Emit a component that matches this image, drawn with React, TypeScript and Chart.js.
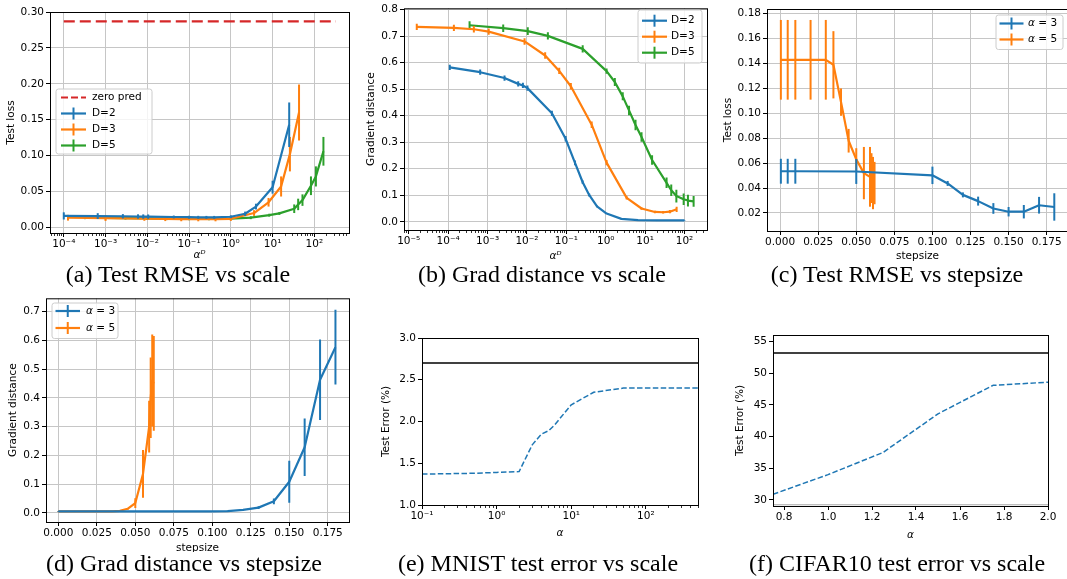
import React, { useEffect, useRef } from "react";
import { Chart, registerables } from "chart.js";
Chart.register(...registerables);

const BLUE = "#1f77b4";
const ORANGE = "#ff7f0e";
const GREEN = "#2ca02c";
const RED = "#d62728";
const SANS = "'DejaVu Sans', sans-serif";
const FS = 10.5;

// ---------- (a) Test RMSE vs scale ----------
const aXTicks = [1e-4, 1e-3, 1e-2, 1e-1, 1, 10, 100];
const aXTickLabels = ["10⁻⁴", "10⁻³", "10⁻²", "10⁻¹", "10⁰", "10¹", "10²"];
const aYTicks = [0, 0.05, 0.1, 0.15, 0.2, 0.25, 0.3];
const aYTickLabels = ["0.00", "0.05", "0.10", "0.15", "0.20", "0.25", "0.30"];
const aZeroX = [1e-4, 330];
const aZeroY = [0.287, 0.287];
const aD2X = [1e-4, 6.5e-4, 2.6e-3, 6e-3, 8e-3, 1.05e-2, 4.3e-2, 0.1, 0.166, 0.26, 0.4, 1.0, 2.2, 4.0, 10, 25];
const aD2Y = [0.016, 0.0158, 0.0155, 0.0152, 0.0151, 0.015, 0.0145, 0.0142, 0.0141, 0.014, 0.014, 0.0148, 0.019, 0.029, 0.056, 0.143];
const aD2E = [0.005, 0.004, 0.003, 0.003, 0.003, 0.003, 0.002, 0.002, 0.002, 0.002, 0.002, 0.002, 0.003, 0.004, 0.009, 0.031];
const aD3X = [1.26e-4, 1e-3, 8.5e-3, 2.7e-2, 6.5e-2, 0.166, 0.43, 1.0, 3.6, 8, 16, 26, 43];
const aD3Y = [0.0135, 0.013, 0.0122, 0.0118, 0.0116, 0.0115, 0.0115, 0.012, 0.02, 0.035, 0.057, 0.102, 0.16];
const aD3E = [0.004, 0.004, 0.003, 0.003, 0.003, 0.003, 0.003, 0.003, 0.004, 0.006, 0.014, 0.024, 0.039];
const aD5X = [3.2e-4, 1e-3, 3e-3, 1e-2, 3e-2, 0.1, 0.3, 1.0, 3.0, 8.3, 14.5, 33, 41, 52, 83, 109, 165];
const aD5Y = [0.0135, 0.0133, 0.013, 0.0125, 0.0122, 0.012, 0.012, 0.0122, 0.0135, 0.017, 0.0195, 0.026, 0.032, 0.038, 0.058, 0.071, 0.106];
const aD5E = [0.002, 0.002, 0.002, 0.002, 0.002, 0.002, 0.002, 0.002, 0.002, 0.002, 0.002, 0.006, 0.008, 0.008, 0.013, 0.014, 0.02];

// ---------- (b) Grad distance vs scale ----------
const bXTicks = [1e-5, 1e-4, 1e-3, 1e-2, 1e-1, 1, 10, 100];
const bXTickLabels = ["10⁻⁵", "10⁻⁴", "10⁻³", "10⁻²", "10⁻¹", "10⁰", "10¹", "10²"];
const bYTicks = [0, 0.1, 0.2, 0.3, 0.4, 0.5, 0.6, 0.7, 0.8];
const bYTickLabels = ["0.0", "0.1", "0.2", "0.3", "0.4", "0.5", "0.6", "0.7", "0.8"];
const bD2X = [1.1e-4, 6.5e-4, 2.7e-3, 6e-3, 7.9e-3, 1.03e-2, 4.3e-2, 0.096, 0.166, 0.26, 0.38, 0.6, 1.05, 2.5, 6.6, 20, 100];
const bD2Y = [0.582, 0.564, 0.542, 0.52, 0.514, 0.504, 0.409, 0.313, 0.222, 0.149, 0.101, 0.058, 0.031, 0.011, 0.006, 0.005, 0.005];
const bD2E = [0.01, 0.01, 0.01, 0.01, 0.01, 0.01, 0.01, 0.01, 0.009, 0.007, 0.006, 0.003, 0.002, 0.001, 0.001, 0.001, 0.001];
const bD3X = [1.6e-5, 1.4e-4, 4.5e-4, 1.07e-3, 8.7e-3, 0.029, 0.066, 0.13, 0.44, 1.05, 3.4, 8.1, 17.7, 28.6, 42.5, 63];
const bD3Y = [0.735, 0.731, 0.726, 0.717, 0.68, 0.627, 0.569, 0.511, 0.366, 0.223, 0.09, 0.05, 0.037, 0.036, 0.038, 0.047];
const bD3E = [0.012, 0.012, 0.012, 0.012, 0.012, 0.012, 0.012, 0.012, 0.012, 0.01, 0.006, 0.005, 0.005, 0.005, 0.006, 0.01];
const bD5X = [3.5e-4, 2.5e-3, 1.05e-2, 3.4e-2, 0.26, 1.05, 1.7, 2.7, 3.9, 5.7, 8.1, 15, 35, 46, 62, 95, 122, 170];
const bD5Y = [0.741, 0.73, 0.719, 0.701, 0.652, 0.568, 0.527, 0.473, 0.42, 0.365, 0.32, 0.233, 0.147, 0.119, 0.097, 0.085, 0.08, 0.077];
const bD5E = [0.015, 0.014, 0.015, 0.014, 0.014, 0.01, 0.015, 0.015, 0.018, 0.02, 0.018, 0.018, 0.02, 0.022, 0.024, 0.022, 0.022, 0.02];

// ---------- (c) Test RMSE vs stepsize ----------
const cXTicks = [0, 0.025, 0.05, 0.075, 0.1, 0.125, 0.15, 0.175];
const cXTickLabels = ["0.000", "0.025", "0.050", "0.075", "0.100", "0.125", "0.150", "0.175"];
const cYTicks = [0.02, 0.04, 0.06, 0.08, 0.1, 0.12, 0.14, 0.16, 0.18];
const cYTickLabels = ["0.02", "0.04", "0.06", "0.08", "0.10", "0.12", "0.14", "0.16", "0.18"];
const cA3X = [0.0005, 0.005, 0.01, 0.05, 0.1, 0.11, 0.12, 0.13, 0.14, 0.15, 0.16, 0.17, 0.18];
const cA3Y = [0.0535, 0.0535, 0.0535, 0.0533, 0.0502, 0.0437, 0.0345, 0.0295, 0.0236, 0.021, 0.021, 0.0262, 0.0248];
const cA3E = [0.01, 0.01, 0.01, 0.01, 0.007, 0.002, 0.002, 0.0036, 0.0043, 0.0038, 0.0054, 0.0067, 0.011];
const cA5X = [0.0005, 0.005, 0.01, 0.02, 0.03, 0.035, 0.04, 0.045, 0.05, 0.055, 0.059, 0.06, 0.061, 0.062];
const cA5Y = [0.143, 0.143, 0.143, 0.143, 0.143, 0.139, 0.109, 0.078, 0.063, 0.052, 0.049, 0.048, 0.044, 0.044];
const cA5E = [0.032, 0.032, 0.032, 0.032, 0.032, 0.027, 0.011, 0.0095, 0.009, 0.021, 0.024, 0.02, 0.021, 0.017];

// ---------- (d) Grad distance vs stepsize ----------
const dXTicks = [0, 0.025, 0.05, 0.075, 0.1, 0.125, 0.15, 0.175];
const dXTickLabels = ["0.000", "0.025", "0.050", "0.075", "0.100", "0.125", "0.150", "0.175"];
const dYTicks = [0, 0.1, 0.2, 0.3, 0.4, 0.5, 0.6, 0.7];
const dYTickLabels = ["0.0", "0.1", "0.2", "0.3", "0.4", "0.5", "0.6", "0.7"];
const dA3X = [0, 0.005, 0.01, 0.05, 0.1, 0.11, 0.12, 0.13, 0.14, 0.15, 0.16, 0.17, 0.18];
const dA3Y = [0.005, 0.005, 0.005, 0.005, 0.005, 0.006, 0.01, 0.018, 0.04, 0.108, 0.228, 0.463, 0.576];
const dA3E = [0.001, 0.001, 0.001, 0.001, 0.001, 0.001, 0.002, 0.005, 0.01, 0.073, 0.1, 0.14, 0.13];
const dA5X = [0, 0.005, 0.01, 0.02, 0.03, 0.035, 0.04, 0.045, 0.05, 0.055, 0.059, 0.06, 0.061, 0.062];
const dA5Y = [0.005, 0.005, 0.005, 0.005, 0.005, 0.005, 0.007, 0.014, 0.034, 0.135, 0.3, 0.4, 0.46, 0.45];
const dA5E = [0.001, 0.001, 0.001, 0.001, 0.001, 0.001, 0.001, 0.003, 0.017, 0.083, 0.09, 0.14, 0.16, 0.165];

// ---------- (e) MNIST test error vs scale ----------
const eXTicks = [0.1, 1, 10, 100];
const eXTickLabels = ["10⁻¹", "10⁰", "10¹", "10²"];
const eYTicks = [1, 1.5, 2, 2.5, 3];
const eYTickLabels = ["1.0", "1.5", "2.0", "2.5", "3.0"];
const eAlpha = [0.1, 0.5, 1, 2, 3, 4, 5, 6, 10, 20, 50, 100, 500];
const eErr = [1.37, 1.38, 1.39, 1.4, 1.72, 1.85, 1.89, 1.96, 2.2, 2.35, 2.4, 2.4, 2.4];
const eRefX = [0.1, 500];
const eRefY = [2.7, 2.7];

// ---------- (f) CIFAR10 test error vs scale ----------
const fXTicks = [0.8, 1.0, 1.2, 1.4, 1.6, 1.8, 2.0];
const fXTickLabels = ["0.8", "1.0", "1.2", "1.4", "1.6", "1.8", "2.0"];
const fYTicks = [30, 35, 40, 45, 50, 55];
const fYTickLabels = ["30", "35", "40", "45", "50", "55"];
const fAlpha = [0.75, 1.0, 1.25, 1.5, 1.75, 2.0];
const fErr = [30.9, 34.0, 37.5, 43.6, 48.1, 48.6];
const fRefX = [0.75, 2.0];
const fRefY = [53.2, 53.2];
const fLowY = [29.25, 29.25];

type Ser = { xs: number[]; ys: number[]; errs?: number[]; color: string; width: number; dash?: number[] };
type LegItem = { parts: { t: string; it?: boolean }[]; color: string; dash?: number[]; err: boolean };
type Leg = { box: number[]; rows: number[]; line: number[]; textX: number; items: LegItem[] };
type Spec = {
  cv: number[];
  plot: number[];
  xType: "linear" | "logarithmic";
  xr: number[];
  yr: number[];
  xTicks: number[];
  xLabels: string[];
  yTicks: number[];
  yLabels: string[];
  xTitle: string;
  yTitle: string;
  xTitleItalic: boolean;
  xTitleY: number;
  yTitleX: number;
  grid: boolean;
  series: Ser[];
  legend?: Leg;
};

const alphaItem = (n: string, color: string): LegItem => ({ parts: [{ t: "α", it: true }, { t: " = " + n }], color, err: true });

const specs: Spec[] = [
  {
    cv: [0, 0, 356, 262], plot: [50, 12, 349, 233], xType: "logarithmic",
    xr: [Math.pow(10, -4.33), Math.pow(10, 2.83)], yr: [-0.0078, 0.3],
    xTicks: aXTicks, xLabels: aXTickLabels, yTicks: aYTicks, yLabels: aYTickLabels,
    xTitle: "αᴰ", yTitle: "Test loss", xTitleItalic: true, xTitleY: 255, yTitleX: 11.5, grid: true,
    series: [
      { xs: aZeroX, ys: aZeroY, color: RED, width: 2.2, dash: [11, 5] },
      { xs: aD2X, ys: aD2Y, errs: aD2E, color: BLUE, width: 2.2 },
      { xs: aD3X, ys: aD3Y, errs: aD3E, color: ORANGE, width: 2.2 },
      { xs: aD5X, ys: aD5Y, errs: aD5E, color: GREEN, width: 2.2 },
    ],
    legend: {
      box: [56, 89, 152, 154], rows: [97.5, 113.5, 129.5, 145.5], line: [61, 86], textX: 92,
      items: [
        { parts: [{ t: "zero pred" }], color: RED, dash: [7, 3], err: false },
        { parts: [{ t: "D=2" }], color: BLUE, err: true },
        { parts: [{ t: "D=3" }], color: ORANGE, err: true },
        { parts: [{ t: "D=5" }], color: GREEN, err: true },
      ],
    },
  },
  {
    cv: [355, 0, 360, 262], plot: [404, 6, 707, 230], xType: "logarithmic",
    xr: [Math.pow(10, -5.12), Math.pow(10, 2.57)], yr: [-0.031, 0.805],
    xTicks: bXTicks, xLabels: bXTickLabels, yTicks: bYTicks, yLabels: bYTickLabels,
    xTitle: "αᴰ", yTitle: "Gradient distance", xTitleItalic: true, xTitleY: 256.5, yTitleX: 371, grid: true,
    series: [
      { xs: bD2X, ys: bD2Y, errs: bD2E, color: BLUE, width: 2.2 },
      { xs: bD3X, ys: bD3Y, errs: bD3E, color: ORANGE, width: 2.2 },
      { xs: bD5X, ys: bD5Y, errs: bD5E, color: GREEN, width: 2.2 },
    ],
    legend: {
      box: [638, 10, 702, 63], rows: [20.7, 36.7, 52.7], line: [642, 667], textX: 671,
      items: [
        { parts: [{ t: "D=2" }], color: BLUE, err: true },
        { parts: [{ t: "D=3" }], color: ORANGE, err: true },
        { parts: [{ t: "D=5" }], color: GREEN, err: true },
      ],
    },
  },
  {
    cv: [712, 0, 364, 262], plot: [767, 9, 1068, 231], xType: "linear",
    xr: [-0.0086, 0.189], yr: [0.0055, 0.1838],
    xTicks: cXTicks, xLabels: cXTickLabels, yTicks: cYTicks, yLabels: cYTickLabels,
    xTitle: "stepsize", yTitle: "Test loss", xTitleItalic: false, xTitleY: 256, yTitleX: 728, grid: true,
    series: [
      { xs: cA3X, ys: cA3Y, errs: cA3E, color: BLUE, width: 2.2 },
      { xs: cA5X, ys: cA5Y, errs: cA5E, color: ORANGE, width: 2.2 },
    ],
    legend: {
      box: [996, 15, 1063, 49.5], rows: [23.5, 39.5], line: [999.5, 1023.5], textX: 1028,
      items: [alphaItem("3", BLUE), alphaItem("5", ORANGE)],
    },
  },
  {
    cv: [0, 290, 356, 262], plot: [46, 297, 349, 522], xType: "linear",
    xr: [-0.008, 0.1888], yr: [-0.032, 0.746],
    xTicks: dXTicks, xLabels: dXTickLabels, yTicks: dYTicks, yLabels: dYTickLabels,
    xTitle: "stepsize", yTitle: "Gradient distance", xTitleItalic: false, xTitleY: 548, yTitleX: 13, grid: true,
    series: [
      { xs: dA3X, ys: dA3Y, errs: dA3E, color: BLUE, width: 2.2 },
      { xs: dA5X, ys: dA5Y, errs: dA5E, color: ORANGE, width: 2.2 },
    ],
    legend: {
      box: [52, 303, 118, 338.5], rows: [311, 328], line: [55.5, 80], textX: 86,
      items: [alphaItem("3", BLUE), alphaItem("5", ORANGE)],
    },
  },
  {
    cv: [358, 290, 354, 262], plot: [422, 338, 698, 505], xType: "logarithmic",
    xr: [0.1, 500], yr: [1, 3],
    xTicks: eXTicks, xLabels: eXTickLabels, yTicks: eYTicks, yLabels: eYTickLabels,
    xTitle: "α", yTitle: "Test Error (%)", xTitleItalic: true, xTitleY: 533, yTitleX: 386, grid: false,
    series: [
      { xs: eRefX, ys: eRefY, color: "#000000", width: 1.5 },
      { xs: eAlpha, ys: eErr, color: BLUE, width: 1.5, dash: [5.5, 2.4] },
    ],
  },
  {
    cv: [712, 290, 355, 262], plot: [773, 335, 1048, 506], xType: "linear",
    xr: [0.75, 2.0], yr: [29.05, 56.05],
    xTicks: fXTicks, xLabels: fXTickLabels, yTicks: fYTicks, yLabels: fYTickLabels,
    xTitle: "α", yTitle: "Test Error (%)", xTitleItalic: true, xTitleY: 535, yTitleX: 740, grid: false,
    series: [
      { xs: fRefX, ys: fLowY, color: "#a8a8a8", width: 1.2 },
      { xs: fRefX, ys: fRefY, color: "#000000", width: 1.5 },
      { xs: fAlpha, ys: fErr, color: BLUE, width: 1.5, dash: [5.5, 2.4] },
    ],
  },
];

const captions = [
  { text: "(a) Test RMSE vs scale", cx: 178, base: 282 },
  { text: "(b) Grad distance vs scale", cx: 542, base: 282 },
  { text: "(c) Test RMSE vs stepsize", cx: 897, base: 282 },
  { text: "(d) Grad distance vs stepsize", cx: 184, base: 571 },
  { text: "(e) MNIST test error vs scale", cx: 538, base: 571 },
  { text: "(f) CIFAR10 test error vs scale", cx: 897, base: 571 },
];

const errorBarPlugin = {
  id: "errbars",
  afterDatasetDraw(chart: any, args: any) {
    const ds: any = chart.data.datasets[args.index];
    if (!ds.errs) return;
    const xs = chart.scales.x;
    const ys = chart.scales.y;
    const ctx = chart.ctx;
    const a = chart.chartArea;
    ctx.save();
    ctx.beginPath();
    ctx.rect(a.left, a.top, a.right - a.left, a.bottom - a.top);
    ctx.clip();
    ctx.strokeStyle = ds.borderColor;
    ctx.lineWidth = 2;
    ctx.setLineDash([]);
    ds.data.forEach((p: any, i: number) => {
      const e = ds.errs[i];
      if (!e) return;
      const px = xs.getPixelForValue(p.x);
      ctx.beginPath();
      ctx.moveTo(px, ys.getPixelForValue(p.y - e));
      ctx.lineTo(px, ys.getPixelForValue(p.y + e));
      ctx.stroke();
    });
    ctx.restore();
  },
};

function decorPlugin(s: Spec) {
  const [cx, cy] = s.cv;
  return {
    id: "decor",
    afterDatasetsDraw(chart: any) {
      const ctx = chart.ctx;
      const a = chart.chartArea;
      ctx.save();
      ctx.setLineDash([]);
      ctx.strokeStyle = "#000";
      ctx.lineWidth = 1;
      ctx.strokeRect(a.left + 0.5, a.top + 0.5, a.right - a.left, a.bottom - a.top);
      if (s.xType === "logarithmic") {
        const xs = chart.scales.x;
        const e0 = Math.floor(Math.log10(s.xr[0]));
        const e1 = Math.ceil(Math.log10(s.xr[1]));
        ctx.lineWidth = 0.8;
        for (let e = e0; e <= e1; e++) {
          for (let k = 2; k <= 9; k++) {
            const v = k * Math.pow(10, e);
            if (v < s.xr[0] || v > s.xr[1]) continue;
            const px = Math.round(xs.getPixelForValue(v) - 0.5) + 0.5;
            ctx.beginPath();
            ctx.moveTo(px, a.bottom + 1);
            ctx.lineTo(px, a.bottom + 3);
            ctx.stroke();
          }
        }
      }
      ctx.restore();
    },
    afterDraw(chart: any) {
      const L = s.legend;
      if (!L) return;
      const ctx = chart.ctx;
      const bl = L.box[0] - cx, bt = L.box[1] - cy, br = L.box[2] - cx, bb = L.box[3] - cy;
      ctx.save();
      ctx.beginPath();
      const r = 2.5;
      ctx.moveTo(bl + r, bt);
      ctx.lineTo(br - r, bt);
      ctx.arcTo(br, bt, br, bt + r, r);
      ctx.lineTo(br, bb - r);
      ctx.arcTo(br, bb, br - r, bb, r);
      ctx.lineTo(bl + r, bb);
      ctx.arcTo(bl, bb, bl, bb - r, r);
      ctx.lineTo(bl, bt + r);
      ctx.arcTo(bl, bt, bl + r, bt, r);
      ctx.closePath();
      ctx.fillStyle = "rgba(255,255,255,0.8)";
      ctx.fill();
      ctx.strokeStyle = "#cccccc";
      ctx.lineWidth = 1;
      ctx.stroke();
      L.items.forEach((it, i) => {
        const y = L.rows[i] - cy;
        const x0 = L.line[0] - cx;
        const x1 = L.line[1] - cx;
        ctx.strokeStyle = it.color;
        ctx.lineWidth = 2.2;
        ctx.setLineDash(it.dash || []);
        ctx.beginPath();
        ctx.moveTo(x0, y);
        ctx.lineTo(x1, y);
        ctx.stroke();
        if (it.err) {
          ctx.setLineDash([]);
          ctx.lineWidth = 2;
          const xm = (x0 + x1) / 2;
          ctx.beginPath();
          ctx.moveTo(xm, y - 6);
          ctx.lineTo(xm, y + 6);
          ctx.stroke();
        }
        let tx = L.textX - cx;
        ctx.fillStyle = "#000";
        ctx.textBaseline = "middle";
        ctx.textAlign = "left";
        it.parts.forEach((p) => {
          ctx.font = `${p.it ? "italic " : ""}${FS}px ${SANS}`;
          ctx.fillText(p.t, tx, y);
          tx += ctx.measureText(p.t).width;
        });
      });
      ctx.restore();
    },
  };
}

function buildConfig(s: Spec): any {
  const [cx, cy, cw, ch] = s.cv;
  const [l, t, r, b] = s.plot;
  const lh = FS * 1.2;
  const tickFont = { family: SANS, size: FS };
  const datasets = s.series.map((se) => ({
    data: se.xs.map((x, i) => ({ x, y: se.ys[i] })),
    borderColor: se.color,
    backgroundColor: se.color,
    borderWidth: se.width,
    borderDash: se.dash || [],
    borderCapStyle: "butt",
    borderJoinStyle: "round",
    pointRadius: 0,
    pointHoverRadius: 0,
    tension: 0,
    fill: false,
    errs: se.errs,
  }));
  const gridOpts = {
    display: true,
    drawOnChartArea: s.grid,
    color: "#c6c6c6",
    lineWidth: 1,
    drawTicks: true,
    tickLength: 4,
    tickColor: "#000",
    tickWidth: 1,
  };
  return {
    type: "line",
    data: { datasets },
    options: {
      animation: false,
      responsive: false,
      events: [],
      layout: { padding: { left: 0, top: t - cy, right: cx + cw - r, bottom: 0 } },
      plugins: { legend: { display: false }, tooltip: { enabled: false } },
      scales: {
        x: {
          type: s.xType,
          position: "bottom",
          min: s.xr[0],
          max: s.xr[1],
          afterBuildTicks: (sc: any) => {
            sc.ticks = s.xTicks.map((v) => ({ value: v }));
          },
          afterFit: (sc: any) => {
            sc.height = cy + ch - b;
          },
          ticks: {
            autoSkip: false,
            maxRotation: 0,
            minRotation: 0,
            padding: 1,
            color: "#000",
            font: tickFont,
            callback: (_v: any, i: number) => s.xLabels[i],
          },
          grid: gridOpts,
          border: { display: false },
          title: {
            display: true,
            text: s.xTitle,
            color: "#000",
            font: { family: SANS, size: FS, style: s.xTitleItalic ? "italic" : "normal" },
            padding: { top: 0, bottom: cy + ch - s.xTitleY - lh / 2 },
          },
        },
        y: {
          type: "linear",
          position: "left",
          min: s.yr[0],
          max: s.yr[1],
          afterBuildTicks: (sc: any) => {
            sc.ticks = s.yTicks.map((v) => ({ value: v }));
          },
          afterFit: (sc: any) => {
            sc.width = l - cx;
          },
          ticks: {
            autoSkip: false,
            padding: 2,
            color: "#000",
            font: tickFont,
            callback: (_v: any, i: number) => s.yLabels[i],
          },
          grid: gridOpts,
          border: { display: false },
          title: {
            display: true,
            text: s.yTitle,
            color: "#000",
            font: { family: SANS, size: FS },
            padding: { top: s.yTitleX - cx - lh / 2, bottom: 0 },
          },
        },
      },
    },
    plugins: [errorBarPlugin, decorPlugin(s)],
  };
}

function Panel({ spec }: { spec: Spec }) {
  const ref = useRef<HTMLCanvasElement | null>(null);
  useEffect(() => {
    if (!ref.current) return;
    const chart = new Chart(ref.current, buildConfig(spec));
    return () => chart.destroy();
  }, [spec]);
  const [x, y, w, h] = spec.cv;
  return (
    <canvas
      ref={ref}
      width={w}
      height={h}
      style={{ position: "absolute", left: x, top: y, width: w, height: h }}
    />
  );
}

export default function App() {
  return (
    <div
      style={{
        position: "fixed",
        left: 0,
        top: 0,
        width: 1067,
        height: 579,
        overflow: "hidden",
        background: "#fff",
      }}
    >
      {specs.map((s, i) => (
        <Panel key={i} spec={s} />
      ))}
      {captions.map((c, i) => (
        <div
          key={"c" + i}
          style={{
            position: "absolute",
            left: c.cx - 200,
            width: 400,
            top: c.base - 20.1,
            height: 27,
            lineHeight: "24px",
            fontFamily: "'Liberation Serif', serif",
            fontSize: 24,
            color: "#000",
            textAlign: "center",
            whiteSpace: "nowrap",
          }}
        >
          {c.text}
        </div>
      ))}
    </div>
  );
}
